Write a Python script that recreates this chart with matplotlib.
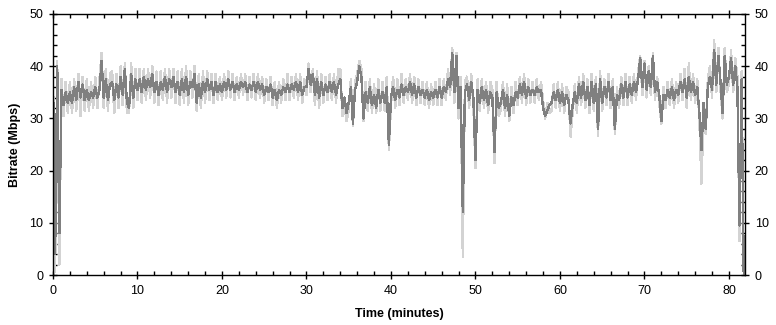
import numpy as np
import matplotlib
matplotlib.use("Agg")
import matplotlib.pyplot as plt
from matplotlib.ticker import MultipleLocator

# bitrate samples, one row per minute (4 samples a minute)
dark_mbps = [
    38, 4, 40, 8,
    35.5, 32.5, 35, 33,
    35, 33, 36, 33.5,
    37, 34, 36.5, 33.5,
    35.5, 33.5, 35, 34,
    36, 34, 35.5, 41,
    34, 37.5, 33.5, 36.5,
    37, 33.5, 36.5, 34,
    38, 34.5, 39.5, 33,
    32, 38.5, 34, 37.5,
    35.5, 37.5, 35, 38,
    35.5, 37.5, 36, 38.5,
    35, 37, 34.5, 37,
    35.5, 38, 35, 37.5,
    36, 38, 35, 37,
    34.5, 37.5, 35, 38,
    34.5, 37, 36, 38.5,
    33, 36.5, 34, 37,
    35, 37.5, 35.5, 37,
    34.5, 37, 35, 36.5,
    35, 37, 35.5, 37.5,
    35.5, 37, 35, 36.5,
    35.5, 37, 36, 37,
    35, 36.5, 35.5, 37,
    35, 37, 35.5, 36.5,
    34.5, 36, 35, 36.5,
    34, 35.5, 33.5, 35.5,
    34.5, 36, 35, 36.5,
    35, 36.5, 35.5, 37,
    35, 37, 34.5, 36,
    36, 39.5, 36.5, 38.5,
    34.5, 37.5, 34, 37,
    34.5, 36.5, 35, 37,
    35, 37, 34.5, 36.5,
    37.5, 32, 34, 31,
    33, 36, 29, 35.5,
    37, 40, 38, 30,
    35, 33, 36, 32.5,
    34.5, 32, 35.5, 33,
    35, 33, 36, 25,
    34, 36, 33.5, 35.5,
    34, 36.5, 34.5, 36,
    35, 37, 34.5, 36.5,
    34, 36, 34.5, 35.5,
    34, 35.5, 33.5, 35,
    34, 35.5, 34, 36,
    34, 36, 35, 37.5,
    36, 42.5, 35, 42,
    32, 36, 12, 35,
    36.5, 33.5, 37, 34,
    22, 35.5, 33, 36,
    33.5, 35.5, 32.5, 35,
    34, 23.5, 35, 32,
    33, 35.5, 32, 34.5,
    30.5, 34, 32.5, 35,
    34, 36.5, 34.5, 37,
    34, 36, 34.5, 35.5,
    34.5, 36, 35, 35.5,
    32, 30.5, 31.5, 32.5,
    33, 35, 33.5, 35.5,
    33, 35, 32.5, 34.5,
    33.5, 29, 32.5, 35,
    33, 36.5, 34, 37,
    33.5, 36, 32.5, 37,
    33, 36.5, 28, 37.5,
    33, 36, 34, 37,
    33.5, 36, 28, 34.5,
    33.5, 36.5, 34, 37,
    34, 36.5, 34.5, 37,
    35, 37.5, 41.5, 36,
    40.5, 35.5, 39, 36,
    42, 35, 37, 34.5,
    29.5, 34.5, 33.5, 35.5,
    34, 36, 33.5, 35.5,
    34.5, 37, 35, 37.5,
    34, 38, 35, 37,
    34.5, 36, 31, 24,
    33, 28, 36, 38,
    35.5, 43, 36.5, 42,
    37, 31, 42, 36.5,
    38, 41.5, 36.5, 40,
    36, 9.5, 37.5, 0,
]

# peaks of the raw (light grey) trace at the same instants
light_mbps = [
    40, 0.5, 41, 2,
    37.5, 30.5, 37, 31,
    37, 31, 37.5, 31.5,
    38.5, 30.5, 38, 31.5,
    37.5, 31.5, 37, 32,
    38, 32, 37.5, 42.5,
    32, 39.5, 31.5, 38.5,
    39, 31, 38.5, 32,
    40, 32.5, 40.5, 31,
    31, 40.5, 32, 39.5,
    33.5, 39.5, 33, 39.5,
    33.5, 39.5, 34, 40,
    33, 39, 32.5, 39,
    33.5, 39.5, 33, 39.5,
    34, 39.5, 33, 39,
    32.5, 39.5, 33, 40,
    32.5, 39, 34, 40,
    31.5, 38.5, 32, 39,
    33, 39, 33.5, 38.5,
    33, 38.5, 33.5, 38,
    33.5, 38.5, 34, 39,
    34, 38.5, 33.5, 38,
    34, 38.5, 34.5, 38.5,
    33.5, 38, 34, 38.5,
    33.5, 38.5, 34, 38,
    33, 37.5, 33.5, 38,
    32.5, 37, 32, 37,
    33, 37.5, 33.5, 38.5,
    33.5, 38, 34, 38.5,
    33.5, 38.5, 33, 37.5,
    34.5, 40.5, 35, 39.5,
    32.5, 39, 32, 38.5,
    33, 38, 33.5, 38.5,
    33.5, 38.5, 33, 39.5,
    39.5, 30.5, 32.5, 29.5,
    31.5, 37.5, 28.5, 37,
    38.5, 41, 39.5, 29.5,
    37, 31.5, 37.5, 31,
    36.5, 31, 37.5, 31.5,
    37, 31.5, 38, 24,
    32.5, 38, 32, 37.5,
    32.5, 38.5, 33, 37.5,
    33.5, 38.5, 33, 38,
    32.5, 37.5, 33, 37,
    32.5, 37, 32, 36.5,
    32.5, 37, 32.5, 37.5,
    32.5, 37.5, 33.5, 39.5,
    34.5, 43.5, 33, 42.5,
    30, 38, 3.5, 37,
    38, 32, 38.5, 32.5,
    20.5, 37.5, 31.5, 37.5,
    32, 37, 31, 37,
    35.5, 21.5, 37, 30.5,
    31.5, 37, 30.5, 36.5,
    29.5, 36, 31, 37,
    32.5, 38, 33, 38.5,
    32.5, 37.5, 33, 37,
    33, 37.5, 33.5, 37,
    33.5, 30, 33, 31,
    31.5, 36.5, 32, 37,
    31.5, 36.5, 31, 36,
    35, 26.5, 31, 36.5,
    31, 38, 32.5, 38.5,
    32, 37.5, 31, 38.5,
    31.5, 38, 26.7, 39,
    31.5, 37.5, 32.5, 38.5,
    32, 37.5, 27, 36,
    32, 38, 32.5, 38.5,
    32.5, 38, 33, 38.5,
    33.5, 39, 42, 34.5,
    41, 34, 40, 34.5,
    42.5, 33.5, 38, 33,
    29, 36, 32, 37,
    32.5, 37.5, 32, 37,
    33, 38.5, 33.5, 39.5,
    32, 40.5, 33.5, 38.5,
    33, 37.5, 29.5, 17.5,
    31.5, 27, 37.5, 40,
    34, 45, 35, 43.5,
    35.5, 30, 43.5, 35,
    36.5, 43, 35, 41.5,
    38, 6.5, 39, 0,
]

step_min = 0.25
t = np.arange(len(dark_mbps)) * step_min

plt.rcParams['font.family'] = ['Liberation Sans', 'DejaVu Sans']

fig = plt.figure(figsize=(7.76, 3.25), dpi=100)
ax = fig.add_axes([53 / 776, 1 - 275 / 325, (745 - 53) / 776, (275 - 14) / 325])

ax.plot(t, light_mbps, color="#d3d3d3", lw=1.0, antialiased=False)
ax.plot(t, dark_mbps, color="#808080", lw=1.0, antialiased=False)

ax.set_xlim(0, 81.9)
ax.set_ylim(0, 50)
ax.xaxis.set_major_locator(MultipleLocator(10))
ax.xaxis.set_minor_locator(MultipleLocator(2))
ax.yaxis.set_major_locator(MultipleLocator(10))
ax.yaxis.set_minor_locator(MultipleLocator(2))
ax.tick_params(which="major", direction="inout", length=6, width=1,
               top=True, right=True, labelright=True, labelsize=9, pad=4)
ax.tick_params(which="minor", direction="in", length=3, width=1,
               top=True, right=True)
for s in ax.spines.values():
    s.set_linewidth(1)

ax.set_xlabel("Time (minutes)", fontsize=9, fontweight="bold", labelpad=8)
ax.set_ylabel("Bitrate (Mbps)", fontsize=9, fontweight="bold", labelpad=6)

fig.savefig("out.png", dpi=100)
